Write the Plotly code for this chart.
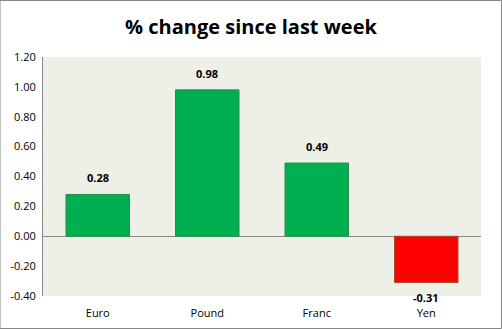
import plotly.graph_objects as go

categories = ["Euro", "Pound", "Franc", "Yen"]
values = [0.28, 0.98, 0.49, -0.31]
tick_vals = [-0.4, -0.2, 0.0, 0.2, 0.4, 0.6, 0.8, 1.0, 1.2]
tick_text = ["-0.40", "-0.20", "0.00", "0.20", "0.40", "0.60", "0.80", "1.00", "1.20"]

fill_colors = ["#00B050" if v >= 0 else "#FF0000" for v in values]
line_colors = ["#2E8B4A" if v >= 0 else "#A0522D" for v in values]

fig = go.Figure(go.Bar(
    x=categories, y=values,
    marker=dict(color=fill_colors, line=dict(color=line_colors, width=1)),
    cliponaxis=False,
))

annotations = []
for c, v in zip(categories, values):
    annotations.append(dict(
        x=c, y=v, xref="x", yref="y", text=f"<b>{v:.2f}</b>", showarrow=False,
        yanchor="bottom" if v >= 0 else "top", yshift=7 if v >= 0 else -5,
        font=dict(family="Open Sans", size=11, color="#000000"),
    ))

fig.update_layout(
    width=502, height=329,
    margin=dict(l=43, r=21, t=57, b=33),
    paper_bgcolor="white",
    plot_bgcolor="#EEF0E8",
    bargap=0.42,
    showlegend=False,
    annotations=annotations,
    title=dict(text="<b>% change since last week</b>", x=0.5, xanchor="center",
               y=0.918, yanchor="middle",
               font=dict(family="Open Sans", size=20, color="#000000")),
    font=dict(family="Open Sans", size=11, color="#000000"),
    xaxis=dict(showgrid=False, showline=False, ticks="", tickfont=dict(size=11),
               ticklabelstandoff=9, automargin=False),
    yaxis=dict(range=[-0.4, 1.2], tickvals=tick_vals, ticktext=tick_text,
               showgrid=False, showline=True, linecolor="#868686", linewidth=1,
               zeroline=True, zerolinecolor="#868686", zerolinewidth=1,
               ticks="", tickfont=dict(size=11), ticklabelstandoff=4,
               automargin=False),
    shapes=[dict(type="rect", xref="paper", yref="paper", x0=-43/438, x1=1+20.5/438,
                 y0=-32.5/239, y1=1+56.5/239, line=dict(color="#868686", width=1))],
)

fig.write_html("out.html")
